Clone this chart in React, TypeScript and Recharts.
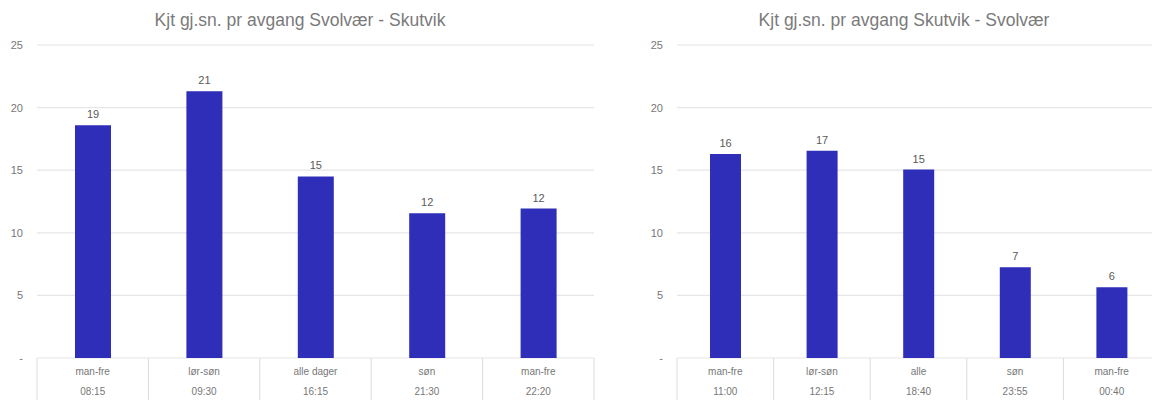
import { BarChart, Bar, XAxis, YAxis, CartesianGrid, LabelList } from 'recharts';

const LEFT_TITLE = 'Kjt gj.sn. pr avgang Svolvær - Skutvik';
const LEFT_DAYS = ['man-fre', 'lør-søn', 'alle dager', 'søn', 'man-fre'];
const LEFT_TIMES = ['08:15', '09:30', '16:15', '21:30', '22:20'];
const LEFT_VALUES = [18.6, 21.3, 14.5, 11.56, 11.94];

const RIGHT_TITLE = 'Kjt gj.sn. pr avgang Skutvik - Svolvær';
const RIGHT_DAYS = ['man-fre', 'lør-søn', 'alle', 'søn', 'man-fre'];
const RIGHT_TIMES = ['11:00', '12:15', '18:40', '23:55', '00:40'];
const RIGHT_VALUES = [16.3, 16.55, 15.05, 7.25, 5.65];

const Y_TICKS = [0, 5, 10, 15, 20, 25];

const HEIGHT = 403;
const TOP = 45;
const AXIS_H = 45;
const AXIS_Y = HEIGHT - AXIS_H;
const BAR_COLOR = '#2e2eb8';
const FONT = '"Liberation Sans", Arial, sans-serif';

interface PanelProps {
  title: string;
  days: string[];
  times: string[];
  values: number[];
  left: number;
  width: number;
  yWidth: number;
  rightMargin: number;
  barSize: number;
}

function Panel({ title, days, times, values, left, width, yWidth, rightMargin, barSize }: PanelProps) {
  const data = days.map((d, i) => ({ key: `${d} ${times[i]}`, value: values[i] }));
  const band = (width - yWidth - rightMargin) / days.length;

  // two-line category label inside a table-like cell
  const renderTick = (props: any) => {
    const { x, index } = props;
    const last = index === days.length - 1;
    return (
      <g>
        <line x1={x - band / 2} x2={x - band / 2} y1={AXIS_Y} y2={HEIGHT - 3} stroke="#dcdcdc" />
        {last && <line x1={x + band / 2} x2={x + band / 2} y1={AXIS_Y} y2={HEIGHT - 3} stroke="#dcdcdc" />}
        <text x={x} y={AXIS_Y + 17} textAnchor="middle" fontSize={10} fill="#777" fontFamily={FONT}>
          {days[index]}
        </text>
        <text x={x} y={AXIS_Y + 37} textAnchor="middle" fontSize={10} fill="#777" fontFamily={FONT}>
          {times[index]}
        </text>
      </g>
    );
  };

  return (
    <div style={{ position: 'absolute', left, top: 0, width, height: HEIGHT }}>
      <div style={{
        position: 'absolute', top: 9, left: 0, width, textAlign: 'center',
        fontFamily: FONT, fontSize: 17.5, lineHeight: '22px', color: '#7a7a7a',
      }}>
        {title}
      </div>
      <BarChart width={width} height={HEIGHT} data={data}
        margin={{ top: TOP, right: rightMargin, bottom: 0, left: 0 }}>
        <CartesianGrid vertical={false} stroke="#e6e6e6" strokeWidth={1.2} />
        <XAxis dataKey="key" height={AXIS_H} axisLine={false} tickLine={false}
          interval={0} tick={renderTick} />
        <YAxis width={yWidth} domain={[0, 25]} ticks={Y_TICKS} axisLine={false} tickLine={false}
          tickSize={0} tickMargin={14}
          tick={{ fontSize: 11, fill: '#777', fontFamily: FONT }}
          tickFormatter={(v: number) => (v === 0 ? '-' : String(v))} />
        <Bar dataKey="value" fill={BAR_COLOR} barSize={barSize} isAnimationActive={false}>
          <LabelList dataKey="value" position="top" offset={7}
            formatter={(v: any) => Math.round(Number(v))}
            style={{ fontSize: 11, fill: '#5a5a5a', fontFamily: FONT }} />
        </Bar>
      </BarChart>
    </div>
  );
}

export default function App() {
  return (
    <div style={{
      position: 'absolute', left: 0, top: 0, width: 1152, height: HEIGHT,
      overflow: 'hidden', background: '#fff',
    }}>
      <Panel title={LEFT_TITLE} days={LEFT_DAYS} times={LEFT_TIMES} values={LEFT_VALUES}
        left={0} width={600} yWidth={37} rightMargin={6} barSize={36} />
      <Panel title={RIGHT_TITLE} days={RIGHT_DAYS} times={RIGHT_TIMES} values={RIGHT_VALUES}
        left={600} width={608} yWidth={77} rightMargin={48} barSize={31} />
    </div>
  );
}
